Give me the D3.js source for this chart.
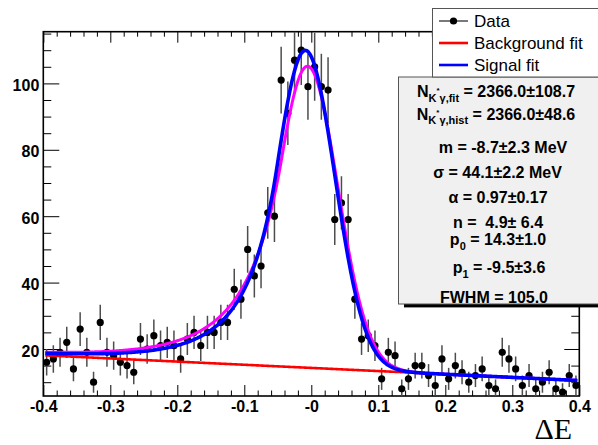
<!DOCTYPE html>
<html>
<head>
<meta charset="utf-8">
<script src="https://cdn.jsdelivr.net/npm/d3@7"></script>
<style>
  html, body { margin: 0; padding: 0; background: #fff; }
  svg { display: block; }
  text { white-space: pre; }
</style>
</head>
<body>
<svg id="chart" width="598" height="445"></svg>
<script>
// ---- histogram: ΔE in 80 bins of 0.01 from -0.4 to 0.4 ----
const binLow = -0.4;
const binWidth = 0.01;
const counts = [
  16, 17, 19, 22, 14, 26, 19, 10, 28, 19,
  18, 16, 15, 13, 23, 20, 24, 21, 22, 21,
  17, 23, 25, 21, 25, 25, 28, 28, 38, 35,
  50, 42, 45, 61, 60, 101, 91, 107, 110, 99,
  105, 99, 98, 59, 64, 59, 35, 23, 24, 21,
  11, 19, 18, 8, 11, 15, 15, 12, 9, 17,
  11, 15, 13, 10, 12, 14, 9, 8, 19, 17,
  14, 9, 12, 8, 10, 13, 8, 7, 12, 9
];

// ---- axis ticks ----
const xTickValues = [-0.4, -0.3, -0.2, -0.1, 0, 0.1, 0.2, 0.3, 0.4];
const xTickLabels = ["-0.4", "-0.3", "-0.2", "-0.1", "-0", "0.1", "0.2", "0.3", "0.4"];
const yTickValues = [20, 40, 60, 80, 100];
const yTickLabels = ["20", "40", "60", "80", "100"];

// ---- fit results (ΔE in GeV) ----
const fitYield = [2366.0, 108.7];      // N fit, error
const histYield = [2366.0, 48.6];      // N hist, error
const cbParams = [-0.0087, 0.0441, 0.97, 4.9];   // mean, sigma, alpha, n
const bkgParams = [14.3, -9.5];                   // p0, p1 (counts / bin)
const fwhmValue = 105.0;
// first-pass signal fit drawn underneath: mean, sigma, alpha, n, peak height
const prefitParams = [-0.0055, 0.045, 0.85, 4.9, 90.8];

// ---- geometry ----
const frame = { left: 43.3, right: 579.3, top: 31.7, bottom: 396 };
const svg = d3.select("#chart");
const FONT = "'Liberation Sans', Arial, Helvetica, sans-serif";

const x = d3.scaleLinear().domain([-0.4, 0.4]).range([frame.left, frame.right]);
const y = d3.scaleLinear().domain([5.84, 115.57]).range([frame.bottom, frame.top]);

// ---- model functions ----
function erf(v) {
  const s = v < 0 ? -1 : 1; v = Math.abs(v);
  const t = 1 / (1 + 0.3275911 * v);
  const p = t * (0.254829592 + t * (-0.284496736 + t * (1.421413741 + t * (-1.453152027 + t * 1.061405429))));
  return s * (1 - p * Math.exp(-v * v));
}
function crystalBall(xv, mean, sigma, alpha, n) {
  const t = (xv - mean) / sigma;
  if (t > -alpha) return Math.exp(-0.5 * t * t);
  const A = Math.pow(n / alpha, n) * Math.exp(-0.5 * alpha * alpha);
  const B = n / alpha - alpha;
  return A / Math.pow(B - t, n);
}
function crystalBallArea(sigma, alpha, n) {
  const core = Math.sqrt(Math.PI / 2) * (1 + erf(alpha / Math.SQRT2));
  const tail = (n / alpha) / (n - 1) * Math.exp(-0.5 * alpha * alpha);
  return sigma * (core + tail);
}
const background = xv => bkgParams[0] + bkgParams[1] * xv;

// signal yield = total fitted yield minus background counts over the range
const bkgCounts = (bkgParams[0] * 0.8) / binWidth;
const sigCounts = fitYield[0] - bkgCounts;
const sigPeak = sigCounts * binWidth / crystalBallArea(cbParams[1], cbParams[2], cbParams[3]);

const totalFit = xv => background(xv) + sigPeak * crystalBall(xv, cbParams[0], cbParams[1], cbParams[2], cbParams[3]);
const prefit = xv => background(xv) + prefitParams[4] * crystalBall(xv, prefitParams[0], prefitParams[1], prefitParams[2], prefitParams[3]);

// ---- clip to frame ----
svg.append("defs").append("clipPath").attr("id", "plotClip")
  .append("rect")
  .attr("x", frame.left).attr("y", frame.top)
  .attr("width", frame.right - frame.left).attr("height", frame.bottom - frame.top);

// ---- axes (ticks drawn inward, ROOT style) ----
function addAxis(gen, tx, ty) {
  const g = svg.append("g").attr("transform", `translate(${tx},${ty})`).call(gen);
  g.select(".domain").remove();
  g.selectAll("line").attr("stroke", "#000").attr("stroke-width", 1);
  g.attr("font-family", FONT).attr("font-size", 16).attr("font-weight", "bold");
  g.selectAll("text").attr("fill", "#000");
  return g;
}
const xMinor = d3.range(-0.4, 0.4001, 0.02).filter(v => Math.abs(Math.round(v * 10) - v * 10) > 1e-6);
const yMinor = d3.range(10, 116, 5).filter(v => v % 20 !== 0);

addAxis(d3.axisBottom(x).tickValues(xTickValues).tickFormat((d, i) => xTickLabels[i])
  .tickSizeInner(-11).tickSizeOuter(0).tickPadding(5), 0, frame.bottom);
addAxis(d3.axisBottom(x).tickValues(xMinor).tickFormat("").tickSizeInner(-5.5).tickSizeOuter(0), 0, frame.bottom);
addAxis(d3.axisTop(x).tickValues(xTickValues).tickFormat("").tickSizeInner(-11).tickSizeOuter(0), 0, frame.top);
addAxis(d3.axisTop(x).tickValues(xMinor).tickFormat("").tickSizeInner(-5).tickSizeOuter(0), 0, frame.top);

const yAxisG = addAxis(d3.axisLeft(y).tickValues(yTickValues).tickFormat((d, i) => yTickLabels[i])
  .tickSizeInner(-16).tickSizeOuter(0).tickPadding(4), frame.left, 0);
yAxisG.selectAll("text").attr("dy", "0.45em");
addAxis(d3.axisLeft(y).tickValues(yMinor).tickFormat("").tickSizeInner(-8).tickSizeOuter(0), frame.left, 0);
addAxis(d3.axisRight(y).tickValues(yTickValues).tickFormat("").tickSizeInner(-15).tickSizeOuter(0), frame.right, 0);
addAxis(d3.axisRight(y).tickValues(yMinor).tickFormat("").tickSizeInner(-8).tickSizeOuter(0), frame.right, 0);

// frame
svg.append("rect")
  .attr("x", frame.left).attr("y", frame.top)
  .attr("width", frame.right - frame.left).attr("height", frame.bottom - frame.top)
  .attr("fill", "none").attr("stroke", "#000").attr("stroke-width", 1.6);

// ---- data points with Poisson errors ----
const bins = counts.map((c, i) => ({ xc: binLow + (i + 0.5) * binWidth, c, e: Math.sqrt(c) }));
const plot = svg.append("g").attr("clip-path", "url(#plotClip)");

plot.append("g").selectAll("line").data(bins).join("line")
  .attr("x1", d => x(d.xc)).attr("x2", d => x(d.xc))
  .attr("y1", d => y(d.c - d.e)).attr("y2", d => y(d.c + d.e))
  .attr("stroke", "#4d4d4d").attr("stroke-width", 1.5);
plot.append("g").selectAll("circle").data(bins).join("circle")
  .attr("cx", d => x(d.xc)).attr("cy", d => y(d.c)).attr("r", 3.6)
  .attr("fill", "#000");

// ---- fit curves ----
const xs = d3.range(-0.397, 0.3971, 0.001);
const line = fn => d3.line().x(v => x(v)).y(v => y(fn(v)))(xs);

plot.append("path").attr("d", line(background))
  .attr("fill", "none").attr("stroke", "#ff0000").attr("stroke-width", 2.6);
plot.append("path").attr("d", line(prefit))
  .attr("fill", "none").attr("stroke", "#ff00ff").attr("stroke-width", 3);
plot.append("path").attr("d", line(totalFit))
  .attr("fill", "none").attr("stroke", "#0000ff").attr("stroke-width", 3.6);

// ---- statistics box ----
svg.append("rect").attr("x", 404).attr("y", 304).attr("width", 200).attr("height", 3.4).attr("fill", "#000");
svg.append("rect").attr("x", 398.5).attr("y", 77).attr("width", 215).attr("height", 227)
  .attr("fill", "#f0f0f0").attr("stroke", "#555").attr("stroke-width", 1);

const fmt1 = v => v.toFixed(1);
const stats = svg.append("g").attr("font-family", FONT).attr("font-weight", "bold")
  .attr("font-size", 16).attr("fill", "#000").attr("text-anchor", "middle");

function yieldLine(cx, by, tag, val) {
  const t = stats.append("text").attr("x", cx).attr("y", by);
  t.append("tspan").text("N");
  t.append("tspan").attr("font-size", 11).attr("dy", 4.5).text("K");
  t.append("tspan").attr("font-size", 8).attr("dy", -9).text("*");
  t.append("tspan").attr("font-size", 11).attr("dy", 9).text("γ," + tag);
  t.append("tspan").attr("dy", -4.5).text(` = ${fmt1(val[0])}±${fmt1(val[1])}`);
}
yieldLine(496, 97, "fit", fitYield);
yieldLine(496, 119.5, "hist", histYield);

function plainLine(cx, by, str) {
  stats.append("text").attr("x", cx).attr("y", by).text(str);
}
plainLine(503, 152.5, `m = ${(cbParams[0] * 1000).toFixed(1)}±2.3 MeV`);
plainLine(497.5, 178, `σ = ${(cbParams[1] * 1000).toFixed(1)}±2.2 MeV`);
plainLine(498, 203, `α = ${cbParams[2].toFixed(2)}±0.17`);
plainLine(498, 228, `n =  ${cbParams[3].toFixed(1)}± 6.4`);

function subLine(cx, by, sub, str) {
  const t = stats.append("text").attr("x", cx).attr("y", by);
  t.append("tspan").text("p");
  t.append("tspan").attr("font-size", 11).attr("dy", 5).text(sub);
  t.append("tspan").attr("dy", -5).text(str);
}
subLine(498, 245, "0", ` = ${bkgParams[0].toFixed(1)}±1.0`);
subLine(499, 273, "1", ` = ${bkgParams[1].toFixed(1)}±3.6`);
plainLine(494, 303, `FWHM = ${fwhmValue.toFixed(1)}`);

// ---- legend ----
svg.append("rect").attr("x", 432.5).attr("y", 8.5).attr("width", 180).attr("height", 68.5)
  .attr("fill", "#fff").attr("stroke", "#555").attr("stroke-width", 1);
const legend = svg.append("g").attr("font-family", FONT).attr("font-size", 17).attr("fill", "#000");
const legendRows = [
  { label: "Data", color: "#4d4d4d", width: 1.5, marker: true, cy: 21 },
  { label: "Background fit", color: "#ff0000", width: 2.6, marker: false, cy: 43 },
  { label: "Signal fit", color: "#0000ff", width: 2.6, marker: false, cy: 65 }
];
legendRows.forEach(r => {
  legend.append("line").attr("x1", 439).attr("x2", 468).attr("y1", r.cy).attr("y2", r.cy)
    .attr("stroke", r.color).attr("stroke-width", r.width);
  if (r.marker) legend.append("circle").attr("cx", 453.5).attr("cy", r.cy).attr("r", 3.6).attr("fill", "#000");
  legend.append("text").attr("x", 474).attr("y", r.cy + 6).text(r.label);
});

// ---- x-axis title ----
svg.append("text").attr("x", 572).attr("y", 439).attr("text-anchor", "end")
  .attr("font-family", "'Liberation Serif', 'Times New Roman', serif").attr("font-size", 30)
  .attr("fill", "#000").text("ΔE");
</script>
</body>
</html>
